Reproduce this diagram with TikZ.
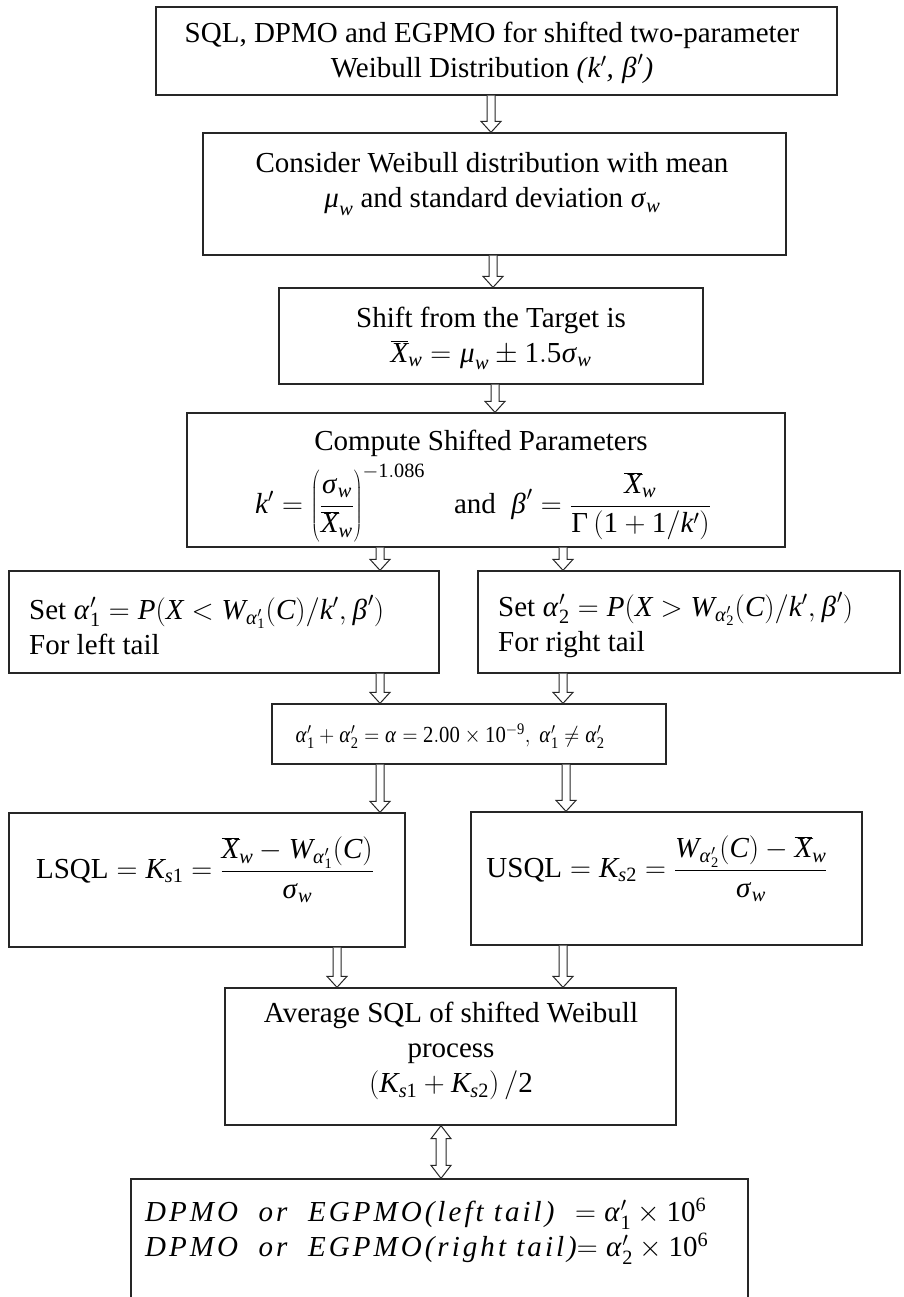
\RequirePackage{fix-cm}
\documentclass[tikz,border=0pt]{standalone}
\IfFileExists{mathspec.sty}{%
  \usepackage{mathspec}
  \setmainfont{Liberation Serif}
  \setmathsfont(Digits,Latin,Greek){Liberation Serif}
}{%
  \usepackage{fontspec}
  \setmainfont{Liberation Serif}
}
\usetikzlibrary{calc}
\newcommand{\tallstrut}[1]{\vcenter to #1{}}
\tikzset{
  box/.style={draw=black!85, line width=1.3pt, inner sep=0pt},
  txt/.style={inner sep=0pt, align=center, font=\fontsize{29}{35}\selectfont},
  ltxt/.style={inner sep=0pt, align=left, font=\fontsize{29}{35}\selectfont},
  arrline/.style={draw=black!85, line width=1pt, fill=white},
}
\newcommand{\hollowarrow}[3]{%
  \draw[arrline] let \p1=(#2.south -| #1), \p2=(#3.north -| #1) in
  ({\x1-4pt},\y1) -- ({\x1-4pt},{\y2+11pt}) -- ({\x1-10pt},{\y2+11pt}) -- (\x1,\y2)
  -- ({\x1+10pt},{\y2+11pt}) -- ({\x1+4pt},{\y2+11pt}) -- ({\x1+4pt},\y1);}
\newcommand{\dblarrow}[3]{%
  \draw[arrline] let \p1=(#2.south -| #1), \p2=(#3.north -| #1) in
  (\x1,\y1) -- ({\x1+10pt},{\y1-13pt}) -- ({\x1+5pt},{\y1-13pt}) -- ({\x1+5pt},{\y2+13pt})
  -- ({\x1+10pt},{\y2+13pt}) -- (\x1,\y2) -- ({\x1-10pt},{\y2+13pt}) -- ({\x1-5pt},{\y2+13pt})
  -- ({\x1-5pt},{\y1-13pt}) -- ({\x1-10pt},{\y1-13pt}) -- cycle;}
\begin{document}
\begin{tikzpicture}[x=1pt,y=-1pt]
\useasboundingbox[fill=white] (0,0) rectangle (903,1297);
% boxes
\node[box, minimum width=681pt, minimum height=88pt] (b1) at (496.5,51) {};
\node[box, minimum width=583pt, minimum height=122pt] (b2) at (494.5,194) {};
\node[box, minimum width=424pt, minimum height=96pt] (b3) at (491,336) {};
\node[box, minimum width=598pt, minimum height=134pt] (b4) at (486,480) {};
\node[box, minimum width=430pt, minimum height=102pt] (b5l) at (224,622) {};
\node[box, minimum width=422pt, minimum height=102pt] (b5r) at (689,622) {};
\node[box, minimum width=394pt, minimum height=60pt] (b6) at (469,734) {};
\node[box, minimum width=396pt, minimum height=134pt] (b7l) at (207,880) {};
\node[box, minimum width=391pt, minimum height=133pt] (b7r) at (666.5,878.5) {};
\node[box, minimum width=451pt, minimum height=137pt] (b8) at (450.5,1056.5) {};
\node[box, minimum width=617pt, minimum height=131pt] (b9) at (439.5,1244.5) {};
% texts
\node[txt] (t1) at (492,53) {SQL, DPMO and EGPMO for shifted two-parameter\\Weibull Distribution \textit{(}$k'$\textit{,} $\beta'$\textit{)}};
\node[txt] (t2) at (492,184) {Consider Weibull distribution with mean\\$\mu_w$ and standard deviation $\sigma_w$};
\node[txt] (t3) at (491,338) {Shift from the Target is\\$\overline{X}_w=\mu_w\pm1.5\sigma_w$};
\node[txt] (t4a) at (481,443) {Compute Shifted Parameters};
\node[txt] (t4b) at (483,503) {$k'=\left(\tallstrut{72pt}\displaystyle\frac{\sigma_w}{\overline{X}_w}\right)^{-1.086}$\quad and\ \ $\displaystyle \beta'=\frac{\overline{X}_w}{\Gamma\left(\tallstrut{26pt}1+1/k'\right)}$};
\node[ltxt, anchor=west] (t5l) at (29,625) {Set $\alpha_1'=P(X<W_{\alpha_1'}(C)/k',\beta')$\\For left tail};
\node[ltxt, anchor=west] (t5r) at (498,625) {Set $\alpha_2'=P(X>W_{\alpha_2'}(C)/k',\beta')$\\For right tail};
\node[txt, font=\fontsize{23}{28}\selectfont] (t6) at (450,736) {\scalebox{0.9}[1]{$\alpha_1'+\alpha_2'=\alpha=2.00\times10^{-9},\ \alpha_1'\neq\alpha_2'$}};
\node[txt] (t7l) at (205,870) {$\mbox{LSQL}=K_{s1}=\displaystyle\frac{\overline{X}_w-W_{\alpha_1'}(C)}{\sigma_w}$};
\node[txt] (t7r) at (657,869) {$\mbox{USQL}=K_{s2}=\displaystyle\frac{W_{\alpha_2'}(C)-\overline{X}_w}{\sigma_w}$};
\node[txt] (t8) at (451,1052) {Average SQL of shifted Weibull\\process\\$\left(\tallstrut{32pt}K_{s1}+K_{s2}\right)/2$};
\node[ltxt, anchor=west] (t9) at (145,1231) {\addfontfeature{LetterSpace=10.5}\itshape DPMO\ \ or\ \ EGPMO(left tail)\ \ $=\alpha_1'\times10^6$\\\addfontfeature{LetterSpace=10.5}\itshape DPMO\ \ or\ \ EGPMO(right tail)$=\alpha_2'\times10^6$};
% arrow columns
\coordinate (cA) at (491,0);
\coordinate (cB) at (493,0);
\coordinate (cC) at (495,0);
\coordinate (cL) at (380,0);
\coordinate (cR) at (563,0);
\coordinate (cR2) at (566,0);
\coordinate (cL2) at (337,0);
\coordinate (cD) at (441,0);
% connectors
\hollowarrow{cA}{b1}{b2}
\hollowarrow{cB}{b2}{b3}
\hollowarrow{cC}{b3}{b4}
\hollowarrow{cL}{b4}{b5l}
\hollowarrow{cR}{b4}{b5r}
\hollowarrow{cL}{b5l}{b6}
\hollowarrow{cR}{b5r}{b6}
\hollowarrow{cL}{b6}{b7l}
\hollowarrow{cR2}{b6}{b7r}
\hollowarrow{cL2}{b7l}{b8}
\hollowarrow{cR}{b7r}{b8}
\dblarrow{cD}{b8}{b9}
\end{tikzpicture}
\end{document}
